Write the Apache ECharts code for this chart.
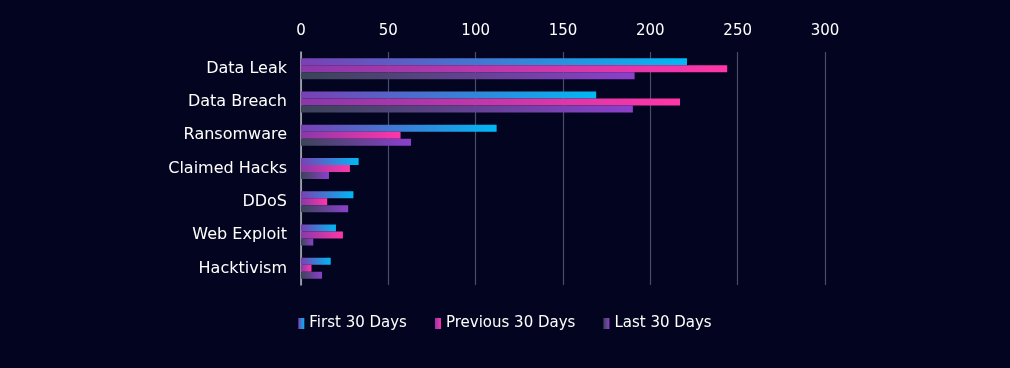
<!DOCTYPE html>
<html>
<head>
<meta charset="utf-8">
<script src="https://cdn.jsdelivr.net/npm/echarts@6/dist/echarts.min.js"></script>
<style>
html,body{margin:0;padding:0;background:#03041f;}
#chart{width:1010px;height:368px;}
</style>
</head>
<body>
<div id="chart"></div>
<script>
const categories = ["Data Leak","Data Breach","Ransomware","Claimed Hacks","DDoS","Web Exploit","Hacktivism"];
const seriesNames = ["First 30 Days","Previous 30 Days","Last 30 Days"];
const firstDays = [221,169,112,33,30,20,17];
const previousDays = [244,217,57,28,15,24,6];
const lastDays = [191,190,63,16,27,7,12];

function grad(a,b){
  return new echarts.graphic.LinearGradient(0,0,1,0,[{offset:0,color:a},{offset:1,color:b}]);
}
const colors = [grad('#7a40b4','#00b8f4'), grad('#8a38aa','#ff36a8'), grad('#3a4458','#8c40cc')];
const values = [firstDays, previousDays, lastDays];
const FONT = '"DejaVu Sans", sans-serif';

const chart = echarts.init(document.getElementById('chart'));
chart.setOption({
  backgroundColor:'#03041f',
  textStyle:{fontFamily:FONT},
  grid:{left:301,right:185,top:52,bottom:83,containLabel:false},
  legend:{
    bottom:32,left:'center',
    itemWidth:6,itemHeight:11,itemGap:28,
    icon:'rect',
    textStyle:{color:'#ffffff',fontSize:15,fontFamily:FONT},
    data:seriesNames
  },
  xAxis:{
    type:'value',position:'top',min:0,max:300,interval:50,
    axisLine:{show:false},axisTick:{show:false},
    axisLabel:{color:'#ffffff',fontSize:15,margin:13},
    splitLine:{lineStyle:{color:'#4a4c68',width:1.2}}
  },
  yAxis:{
    type:'category',inverse:true,data:categories,
    axisLine:{show:true,lineStyle:{color:'#b8b8c0',width:1.5}},
    axisTick:{show:false},
    axisLabel:{color:'#ffffff',fontSize:16,margin:14}
  },
  series: seriesNames.map((n,i)=>({
    name:n,type:'bar',data:values[i],
    barGap:'0%',barCategoryGap:'37%',
    itemStyle:{color:colors[i]},
    emphasis:{disabled:true}
  }))
});
</script>
</body>
</html>
